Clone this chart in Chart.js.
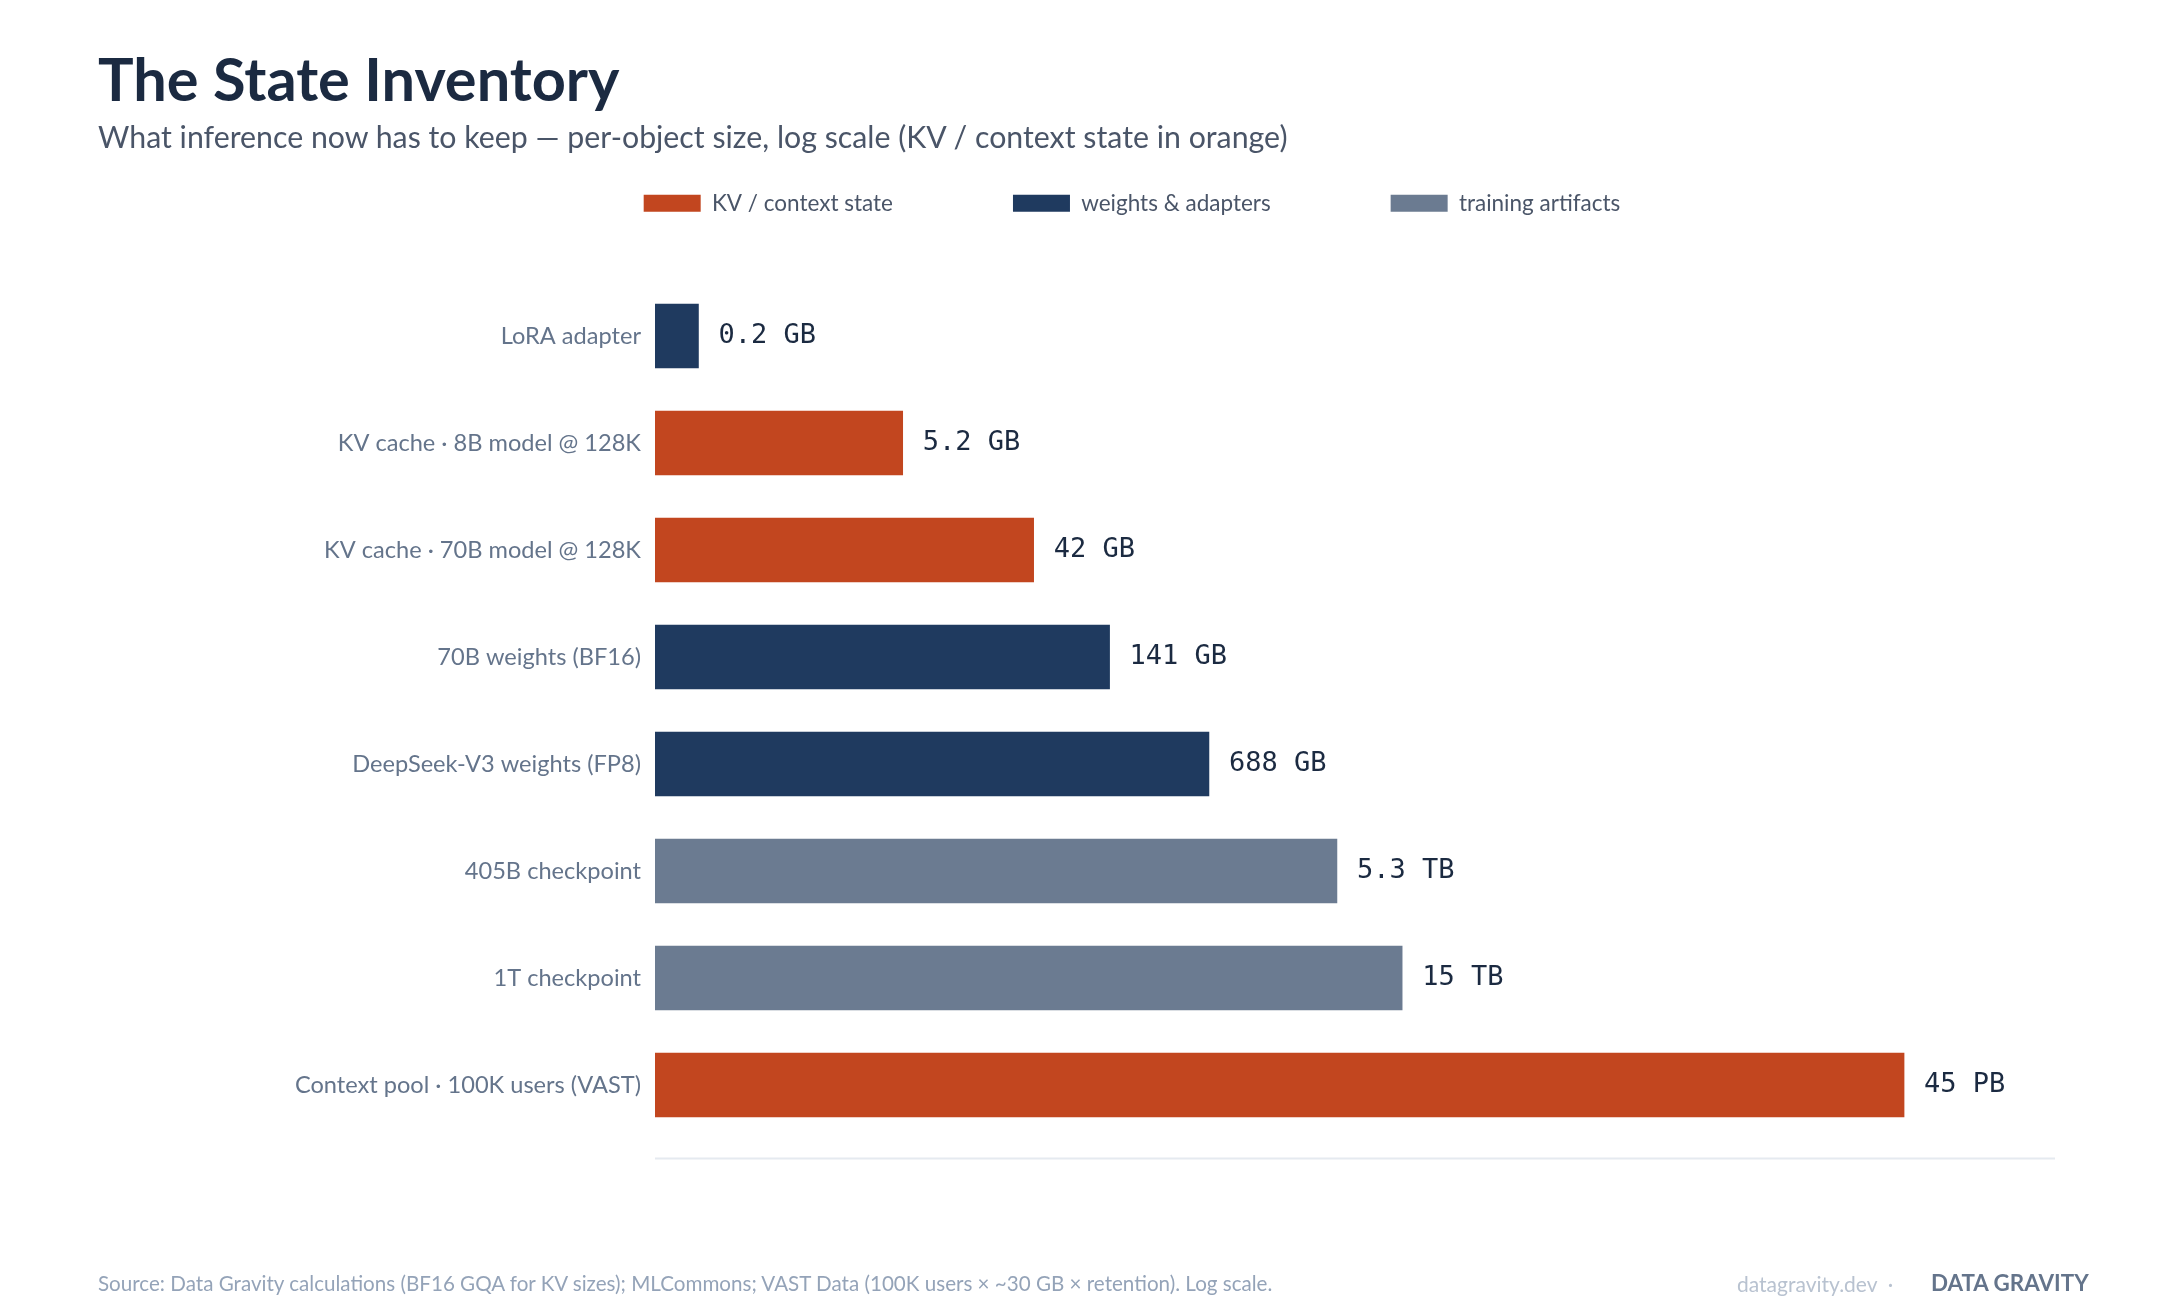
<!DOCTYPE html>
<html>
<head>
<meta charset="utf-8">
<title>The State Inventory</title>
<script src="https://cdn.jsdelivr.net/npm/chart.js@4.4.1/dist/chart.umd.min.js"></script>
<style>
  html, body { margin: 0; padding: 0; background: #ffffff; }
  body { width: 2184px; height: 1316px; position: relative; overflow: hidden; font-family: Lato, "Noto Sans", sans-serif; }
  #chartBox { position: absolute; left: 0; top: 0; width: 2184px; height: 1316px; }
  .title { position: absolute; left: 98px; top: 49px; font-size: 59.5px; font-weight: 700; color: #1b2a41; line-height: 1; }
  .subtitle { position: absolute; left: 98px; top: 121px; font-size: 30.3px; color: #4a5568; line-height: 1; }
  .source { position: absolute; left: 98px; top: 1273px; font-size: 20.6px; color: #94a3b8; line-height: 1; }
  .site { position: absolute; left: 1737px; top: 1273px; font-size: 21px; color: #b8c2d0; line-height: 1; }
  .brand { position: absolute; left: 1931px; top: 1272px; font-size: 22.4px; font-weight: 700; color: #64748b; line-height: 1; }
</style>
</head>
<body>
<div id="chartBox"><canvas id="stateChart"></canvas></div>
<div class="title">The State Inventory</div>
<div class="subtitle">What inference now has to keep — per-object size, log scale (KV / context state in orange)</div>
<div class="source">Source: Data Gravity calculations (BF16 GQA for KV sizes); MLCommons; VAST Data (100K users × ~30 GB × retention). Log scale.</div>
<div class="site">datagravity.dev&nbsp; ·</div>
<div class="brand">DATA GRAVITY</div>
<script>
// ---- data ----
const categories = [
  "LoRA adapter",
  "KV cache · 8B model @ 128K",
  "KV cache · 70B model @ 128K",
  "70B weights (BF16)",
  "DeepSeek-V3 weights (FP8)",
  "405B checkpoint",
  "1T checkpoint",
  "Context pool · 100K users (VAST)"
];
// sizes in GB
const sizesGB = [0.2, 5.2, 42, 141, 688, 5300, 15000, 45000000];
const valueLabels = ["0.2 GB", "5.2 GB", "42 GB", "141 GB", "688 GB", "5.3 TB", "15 TB", "45 PB"];
const groups = ["weights", "kv", "kv", "weights", "weights", "training", "training", "kv"];

const groupNames = ["KV / context state", "weights & adapters", "training artifacts"];
const groupKeys = ["kv", "weights", "training"];
const groupColors = { kv: "#c2461f", weights: "#1f3a5f", training: "#6b7b91" };

// ---- value labels next to bars ----
const valueLabelPlugin = {
  id: "valueLabels",
  afterDatasetsDraw(chart) {
    const c = chart.ctx;
    const meta = chart.getDatasetMeta(0);
    c.save();
    c.font = "27px 'DejaVu Sans Mono', monospace";
    c.fillStyle = "#1b2a41";
    c.textAlign = "left";
    c.textBaseline = "middle";
    meta.data.forEach((bar, i) => {
      c.fillText(valueLabels[i], bar.x + 20, bar.y);
    });
    c.restore();
  }
};

// ---- thin base line under the bars ----
const baseLinePlugin = {
  id: "baseLine",
  beforeDatasetsDraw(chart) {
    const c = chart.ctx;
    const a = chart.chartArea;
    c.save();
    c.strokeStyle = "#e5eaf0";
    c.lineWidth = 2;
    c.beginPath();
    c.moveTo(a.left, a.bottom + 20);
    c.lineTo(a.right, a.bottom + 20);
    c.stroke();
    c.restore();
  }
};

const ctx = document.getElementById("stateChart");

new Chart(ctx, {
  type: "bar",
  data: {
    labels: categories,
    datasets: [{
      data: sizesGB,
      backgroundColor: groups.map(g => groupColors[g]),
      borderWidth: 0,
      barThickness: 64
    }]
  },
  options: {
    indexAxis: "y",
    responsive: true,
    maintainAspectRatio: false,
    animation: false,
    devicePixelRatio: 1,
    layout: { padding: { top: 72, left: 209, right: 129, bottom: 177.5 } },
    plugins: {
      tooltip: { enabled: false },
      legend: {
        position: "top",
        onClick: null,
        labels: {
          font: { family: "Lato", size: 22.5 },
          color: "#4a5568",
          boxWidth: 57,
          boxHeight: 17,
          padding: 120,
          generateLabels: () => groupKeys.map((k, i) => ({
            text: groupNames[i],
            fillStyle: groupColors[k],
            strokeStyle: groupColors[k],
            lineWidth: 0,
            fontColor: "#4a5568",
            datasetIndex: 0,
            index: i
          }))
        }
      }
    },
    scales: {
      x: {
        type: "logarithmic",
        position: "top",
        min: 0.1,
        max: 500000000,
        grid: { display: false, drawTicks: false },
        border: { display: false },
        ticks: { display: false },
        afterFit: (axis) => { axis.height = 58; }
      },
      y: {
        grid: { display: false, drawTicks: false },
        border: { display: false },
        ticks: {
          font: { family: "Lato", size: 23.6 },
          color: "#64748b",
          padding: 14
        },
        afterFit: (axis) => { axis.width = 446; }
      }
    }
  },
  plugins: [valueLabelPlugin, baseLinePlugin]
});
</script>
</body>
</html>
